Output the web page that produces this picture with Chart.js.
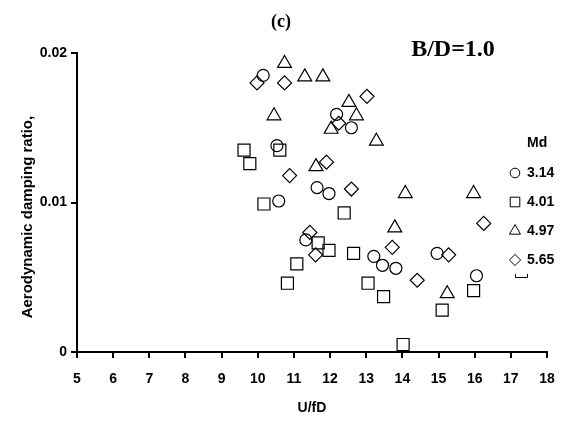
<!DOCTYPE html>
<html>
<head>
<meta charset="utf-8">
<script src="https://cdn.jsdelivr.net/npm/chart.js@4"></script>
<style>
  html, body { margin: 0; padding: 0; background: #fff; }
  #wrap { width: 569px; height: 421px; }
</style>
</head>
<body>
<div id="wrap"><canvas id="c"></canvas></div>
<script>
// U/fD and damping ratio for each mass ratio Md
const mdLabels = ['3.14', '4.01', '4.97', '5.65'];

const circleX = [10.15, 10.53, 10.58, 11.33, 11.64, 11.97, 12.18, 12.59, 13.21, 13.45, 13.82, 14.96, 16.05];
const circleY = [0.0185, 0.0138, 0.0101, 0.0075, 0.0110, 0.0106, 0.0159, 0.0150, 0.0064, 0.0058, 0.0056, 0.0066, 0.0051];

const squareX = [9.62, 9.78, 10.17, 10.61, 10.82, 11.08, 11.67, 11.97, 12.39, 12.65, 13.05, 13.48, 14.02, 15.10, 15.97];
const squareY = [0.0135, 0.0126, 0.0099, 0.0135, 0.0046, 0.0059, 0.0073, 0.0068, 0.0093, 0.0066, 0.0046, 0.0037, 0.0005, 0.0028, 0.0041];

const triX = [10.45, 10.74, 11.30, 11.61, 11.80, 12.03, 12.52, 12.73, 13.28, 13.79, 14.08, 15.24, 15.97];
const triY = [0.0158, 0.0193, 0.0184, 0.0124, 0.0184, 0.0149, 0.0167, 0.0158, 0.0141, 0.0083, 0.0106, 0.0039, 0.0106];

const diaX = [9.98, 10.74, 10.88, 11.44, 11.60, 11.90, 12.24, 12.59, 13.02, 13.72, 14.41, 15.28, 16.25];
const diaY = [0.0180, 0.0180, 0.0118, 0.0080, 0.0065, 0.0127, 0.0153, 0.0109, 0.0171, 0.0070, 0.0048, 0.0065, 0.0086];

const xTicks = [5, 6, 7, 8, 9, 10, 11, 12, 13, 14, 15, 16, 17, 18];
const yTicks = [0, 0.01, 0.02];

const pts = (xs, ys) => xs.map((x, i) => ({x: x, y: ys[i]}));

const styles = [
  {pointStyle: 'circle', radius: 6},
  {pointStyle: 'rect', radius: 8.5},
  {pointStyle: 'triangle', radius: 8},
  {pointStyle: 'rectRot', radius: 7}
];
const series = [pts(circleX, circleY), pts(squareX, squareY), pts(triX, triY), pts(diaX, diaY)];

const datasets = series.map((d, i) => ({
  label: mdLabels[i],
  data: d,
  pointStyle: styles[i].pointStyle,
  pointRadius: styles[i].radius,
  pointBorderColor: '#000',
  pointBackgroundColor: 'rgba(0,0,0,0)',
  pointBorderWidth: 1.2,
  showLine: false
}));

const sans = '"Liberation Sans", Arial, sans-serif';
const serif = '"Liberation Serif", "Times New Roman", serif';

// texts and legend drawn by hand
const extras = {
  id: 'extras',
  afterDraw(chart) {
    const ctx = chart.ctx;
    ctx.save();
    ctx.fillStyle = '#000';
    ctx.textBaseline = 'middle';
    ctx.textAlign = 'center';
    ctx.font = 'bold 18px ' + serif;
    ctx.fillText('(c)', 281, 22);
    ctx.font = 'bold 24px ' + serif;
    ctx.fillText('B/D=1.0', 453, 50);

    ctx.textAlign = 'left';
    ctx.font = 'bold 14px ' + sans;
    ctx.fillText('Md', 527, 143);
    const ys = [173, 202, 231, 260];
    ys.forEach((y, i) => {
      ctx.fillStyle = '#000';
      ctx.fillText(mdLabels[i], 527, y);
      ctx.fillStyle = 'rgba(0,0,0,0)';
      ctx.strokeStyle = '#000';
      ctx.lineWidth = 1;
      Chart.helpers.drawPoint(ctx, {
        pointStyle: styles[i].pointStyle,
        radius: styles[i].radius * 0.8,
        borderWidth: 1
      }, 515, y);
    });
    // small bracket mark below legend
    ctx.beginPath();
    ctx.moveTo(515.5, 274);
    ctx.lineTo(515.5, 277.5);
    ctx.lineTo(527.5, 277.5);
    ctx.lineTo(527.5, 274);
    ctx.lineWidth = 1;
    ctx.strokeStyle = '#000';
    ctx.stroke();
    ctx.restore();
  }
};

new Chart(document.getElementById('c'), {
  type: 'scatter',
  data: {datasets: datasets},
  options: {
    responsive: true,
    maintainAspectRatio: false,
    animation: false,
    layout: {padding: {top: 53, right: 22, left: 0, bottom: 0}},
    plugins: {legend: {display: false}, tooltip: {enabled: false}},
    scales: {
      x: {
        type: 'linear',
        min: 5, max: 18,
        afterBuildTicks: s => { s.ticks = xTicks.map(v => ({value: v})); },
        afterFit: s => { s.height = 69; },
        border: {display: true, color: '#000', width: 2},
        grid: {drawOnChartArea: false, color: '#000', lineWidth: 2, tickLength: 6},
        ticks: {color: '#000', font: {family: sans, size: 14, weight: 'bold'}, padding: 13, maxRotation: 0},
        title: {display: true, text: 'U/fD', color: '#000', font: {family: sans, size: 14, weight: 'bold'}, padding: {top: 3}}
      },
      y: {
        type: 'linear',
        min: 0, max: 0.02,
        afterBuildTicks: s => { s.ticks = yTicks.map(v => ({value: v})); },
        afterFit: s => { s.width = 77; },
        border: {display: true, color: '#000', width: 2},
        grid: {drawOnChartArea: false, color: '#000', lineWidth: 2, tickLength: 6},
        ticks: {color: '#000', font: {family: sans, size: 14, weight: 'bold'}, padding: 4,
          callback: v => v === 0 ? '0' : v.toFixed(2)},
        title: {display: true, text: 'Aerodynamic damping ratio,       ', color: '#000', font: {family: sans, size: 15, weight: 'bold'}, padding: {top: 19, bottom: 0}}
      }
    }
  },
  plugins: [extras]
});
</script>
</body>
</html>
